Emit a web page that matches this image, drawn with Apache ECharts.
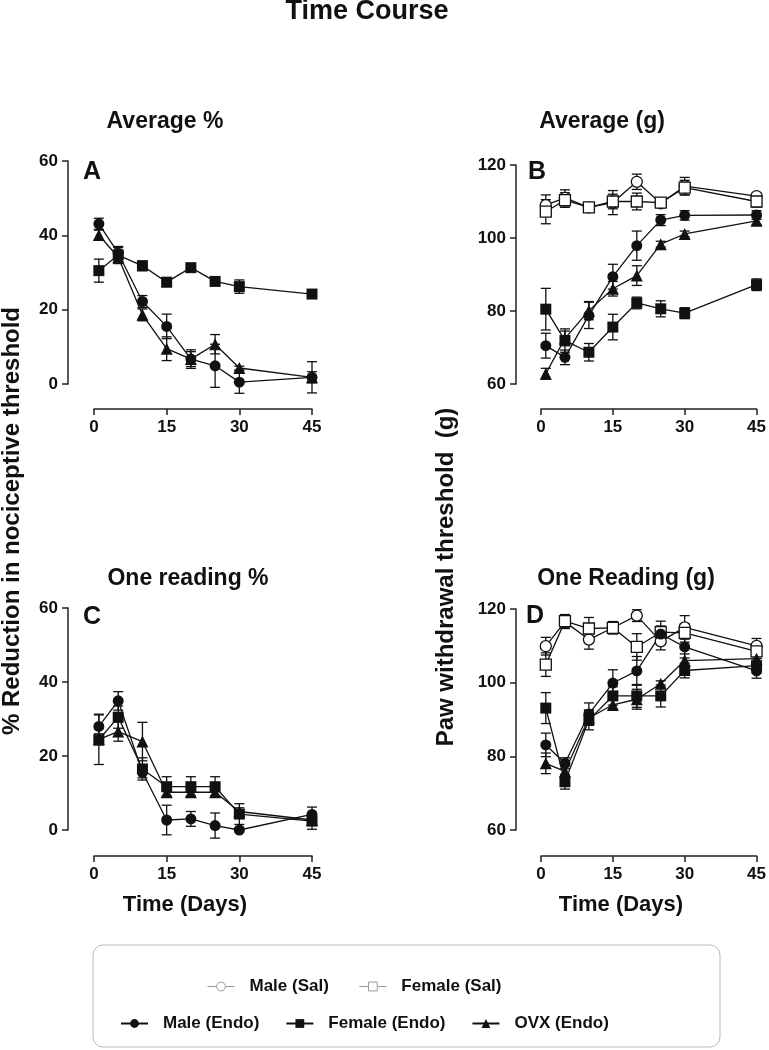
<!DOCTYPE html>
<html>
<head>
<meta charset="utf-8">
<script src="https://cdn.jsdelivr.net/npm/echarts@6/dist/echarts.min.js"></script>
<style>
html,body{margin:0;padding:0;background:#fff;}
#chart{width:769px;height:1050px;}
</style>
</head>
<body>
<div id="chart"></div>
<script>
// ---------- data ----------
const days = [1, 5, 10, 15, 20, 25, 30, 45];
const xTicks = [0, 15, 30, 45];
const pctTicks = [0, 20, 40, 60];
const gTicks = [60, 80, 100, 120];

const seriesNames = ['Male (Sal)', 'Female (Sal)', 'Male (Endo)', 'Female (Endo)', 'OVX (Endo)'];

// Panel A: Average %
const aMaleEndo = [43.1, 35.2, 22.2, 15.5, 6.7, 4.9, 0.5, 1.8];
const aMaleEndoErr = [1.5, 1.5, 1.6, 3.3, 2.5, 5.8, 3.0, 4.2];
const aFemaleEndo = [30.5, 34.7, 31.8, 27.4, 31.3, 27.6, 26.2, 24.2];
const aFemaleEndoErr = [3.1, 2.3, 1.3, 1.2, 0.5, 1.0, 1.8, 0.5];
const aOvx = [40.1, 34.1, 18.6, 9.5, 6.7, 10.7, 4.3, 1.8];
const aOvxErr = [1.3, 1.5, 1.6, 3.2, 2.0, 2.6, 0.5, 1.5];

// Panel B: Average (g)
const bMaleSal = [109.0, 111.0, 108.4, 109.7, 115.4, 109.5, 114.2, 111.5];
const bMaleSalErr = [2.8, 2.2, 0.8, 3.3, 2.1, 1.0, 2.4, 0.8];
const bFemaleSal = [107.2, 110.4, 108.4, 110.0, 110.0, 109.7, 113.8, 110.0];
const bFemaleSalErr = [3.3, 2.0, 0.8, 2.0, 2.3, 1.0, 2.0, 1.5];
const bMaleEndo = [70.5, 67.3, 78.8, 89.4, 97.9, 104.9, 106.2, 106.3];
const bMaleEndoErr = [3.4, 2.0, 3.6, 3.4, 4.0, 1.5, 1.3, 1.2];
const bFemaleEndo = [80.5, 71.9, 68.7, 75.6, 82.2, 80.6, 79.4, 87.2];
const bFemaleEndoErr = [5.7, 3.2, 2.4, 3.5, 1.6, 2.2, 1.5, 1.6];
const bOvx = [62.8, 72.5, 80.1, 86.1, 89.7, 98.3, 101.1, 104.7];
const bOvxErr = [1.5, 2.0, 2.5, 2.0, 2.7, 0.8, 0.8, 1.0];

// Panel C: One reading %
const cMaleEndo = [28.0, 34.9, 15.6, 2.7, 3.0, 1.2, 0.0, 4.2];
const cMaleEndoErr = [3.3, 2.5, 1.5, 4.0, 2.0, 3.4, 0.5, 2.0];
const cFemaleEndo = [24.4, 30.5, 16.5, 11.7, 11.7, 11.7, 4.3, 2.4];
const cFemaleEndoErr = [6.7, 3.0, 3.0, 2.7, 2.7, 2.7, 2.8, 2.2];
const cOvx = [24.5, 26.6, 23.9, 10.2, 10.2, 10.2, 5.0, 2.7];
const cOvxErr = [1.5, 2.6, 5.2, 1.0, 1.0, 1.0, 1.0, 1.0];

// Panel D: One Reading (g)
const dMaleSal = [109.9, 116.5, 111.7, 114.9, 118.2, 111.2, 115.0, 110.0];
const dMaleSalErr = [2.4, 1.8, 2.6, 1.7, 1.6, 2.3, 3.2, 2.0];
const dFemaleSal = [104.9, 116.7, 114.7, 114.9, 109.7, 113.7, 113.5, 108.5];
const dFemaleSalErr = [3.2, 1.8, 3.0, 1.5, 3.6, 3.0, 2.5, 2.0];
const dMaleEndo = [83.1, 78.1, 91.5, 99.9, 103.2, 113.2, 109.7, 103.2];
const dMaleEndoErr = [3.2, 1.5, 3.0, 3.6, 3.9, 2.2, 3.0, 2.0];
const dFemaleEndo = [93.1, 73.1, 89.9, 96.4, 96.4, 96.4, 103.3, 104.6];
const dFemaleEndoErr = [4.2, 2.0, 2.7, 2.5, 3.1, 3.0, 2.0, 2.0];
const dOvx = [78.1, 75.9, 90.4, 94.0, 95.5, 99.7, 106.0, 106.5];
const dOvxErr = [2.8, 1.5, 2.0, 1.5, 2.7, 0.8, 1.8, 1.5];

// ---------- styling / building ----------
const FONT = 'Liberation Sans, Arial, Helvetica, sans-serif';
const INK = '#111';

const symbolFor = {
  'Male (Sal)': {symbol: 'circle', open: true, size: 11},
  'Female (Sal)': {symbol: 'rect', open: true, size: 11},
  'Male (Endo)': {symbol: 'circle', open: false, size: 11},
  'Female (Endo)': {symbol: 'rect', open: false, size: 11},
  'OVX (Endo)': {symbol: 'triangle', open: false, size: 12}
};

const panels = [
  {grid: {left: 94, top: 161, width: 218, height: 223}, yOff: 26, xOff: 25, yTicks: pctTicks,
   sets: [['Male (Endo)', aMaleEndo, aMaleEndoErr], ['Female (Endo)', aFemaleEndo, aFemaleEndoErr], ['OVX (Endo)', aOvx, aOvxErr]]},
  {grid: {left: 541, top: 165, width: 218, height: 219}, yOff: 25, xOff: 25, yTicks: gTicks,
   sets: [['Male (Sal)', bMaleSal, bMaleSalErr], ['Female (Sal)', bFemaleSal, bFemaleSalErr], ['Male (Endo)', bMaleEndo, bMaleEndoErr], ['Female (Endo)', bFemaleEndo, bFemaleEndoErr], ['OVX (Endo)', bOvx, bOvxErr]]},
  {grid: {left: 94, top: 608, width: 218, height: 222}, yOff: 26, xOff: 26, yTicks: pctTicks,
   sets: [['Male (Endo)', cMaleEndo, cMaleEndoErr], ['Female (Endo)', cFemaleEndo, cFemaleEndoErr], ['OVX (Endo)', cOvx, cOvxErr]]},
  {grid: {left: 541, top: 609, width: 218, height: 221}, yOff: 25, xOff: 26, yTicks: gTicks,
   sets: [['Male (Sal)', dMaleSal, dMaleSalErr], ['Female (Sal)', dFemaleSal, dFemaleSalErr], ['Male (Endo)', dMaleEndo, dMaleEndoErr], ['Female (Endo)', dFemaleEndo, dFemaleEndoErr], ['OVX (Endo)', dOvx, dOvxErr]]}
];

const axisLine = {show: true, onZero: false, lineStyle: {color: '#222', width: 1.5}};
const axisTick = {show: true, length: 6, lineStyle: {color: '#222', width: 1.5}};
const axisLabel = {color: INK, fontSize: 17, fontWeight: 'bold', fontFamily: FONT};

const grids = [], xAxes = [], yAxes = [], series = [];
panels.forEach((p, gi) => {
  grids.push(Object.assign({containLabel: false}, p.grid));
  xAxes.push({
    type: 'value', gridIndex: gi, min: xTicks[0], max: xTicks[xTicks.length - 1],
    interval: xTicks[1] - xTicks[0], offset: p.xOff,
    axisLine, axisTick, splitLine: {show: false},
    axisLabel: Object.assign({margin: 10}, axisLabel)
  });
  yAxes.push({
    type: 'value', gridIndex: gi, min: p.yTicks[0], max: p.yTicks[p.yTicks.length - 1],
    interval: p.yTicks[1] - p.yTicks[0], offset: p.yOff,
    axisLine, axisTick, splitLine: {show: false},
    axisLabel: Object.assign({margin: 10}, axisLabel)
  });
  const lines = [], errs = [];
  p.sets.forEach(([name, vals, err]) => {
    const s = symbolFor[name];
    lines.push({
      type: 'line', name, xAxisIndex: gi, yAxisIndex: gi, z: 3, clip: false,
      data: days.map((d, i) => [d, vals[i]]),
      symbol: s.symbol, symbolSize: s.size, showSymbol: true, animation: false,
      lineStyle: {color: INK, width: 1.3},
      itemStyle: s.open ? {color: '#fff', borderColor: INK, borderWidth: 1.3} : {color: INK, borderColor: INK, borderWidth: 0},
      emphasis: {disabled: true}
    });
    errs.push({
      type: 'custom', name, xAxisIndex: gi, yAxisIndex: gi, z: 2, clip: false, animation: false, silent: true,
      data: days.map((d, i) => [d, vals[i] - err[i], vals[i] + err[i]]),
      encode: {x: 0, y: [1, 2]},
      renderItem: function (params, api) {
        const lo = api.coord([api.value(0), api.value(1)]);
        const hi = api.coord([api.value(0), api.value(2)]);
        const w = 5;
        const st = {stroke: INK, lineWidth: 1.3};
        return {type: 'group', children: [
          {type: 'line', shape: {x1: lo[0], y1: lo[1], x2: hi[0], y2: hi[1]}, style: st},
          {type: 'line', shape: {x1: lo[0] - w, y1: lo[1], x2: lo[0] + w, y2: lo[1]}, style: st},
          {type: 'line', shape: {x1: hi[0] - w, y1: hi[1], x2: hi[0] + w, y2: hi[1]}, style: st}
        ]};
      }
    });
  });
  series.push(...lines, ...errs);
});

function txt(text, x, y, size, rot) {
  return {type: 'text', x, y, rotation: rot || 0, z: 10, silent: true,
    style: {text, fill: INK, fontSize: size, fontWeight: 'bold', fontFamily: FONT, align: 'center', verticalAlign: 'middle'}};
}

const legendText = {color: INK, fontSize: 17, fontWeight: 'bold', fontFamily: FONT, padding: [0, 0, 0, 10]};

const option = {
  backgroundColor: '#fff',
  animation: false,
  grid: grids,
  xAxis: xAxes,
  yAxis: yAxes,
  series,
  legend: [
    {left: 202, top: 973, itemWidth: 27, itemHeight: 11, itemGap: 30, selectedMode: false,
     textStyle: legendText,
     data: [
       {name: 'Male (Sal)', itemStyle: {color: '#fff', borderColor: '#999', borderWidth: 1}, lineStyle: {color: '#999', width: 1}},
       {name: 'Female (Sal)', itemStyle: {color: '#fff', borderColor: '#999', borderWidth: 1}, lineStyle: {color: '#999', width: 1}}
     ]},
    {left: 115, top: 1010, itemWidth: 27, itemHeight: 11, itemGap: 26, selectedMode: false,
     textStyle: legendText,
     data: ['Male (Endo)', 'Female (Endo)', 'OVX (Endo)']}
  ],
  graphic: [
    {type: 'rect', z: 0, silent: true, shape: {x: 93, y: 945, width: 627, height: 102, r: 10}, style: {fill: 'none', stroke: '#bbb', lineWidth: 1}},
    txt('Time Course', 367, 12, 27),
    txt('Average %', 165, 122, 23),
    txt('Average (g)', 602, 122, 23),
    txt('One reading %', 188, 579, 23),
    txt('One Reading (g)', 626, 579, 23),
    txt('A', 92, 172, 25),
    txt('B', 537, 172, 25),
    txt('C', 92, 617, 25),
    txt('D', 535, 616, 25),
    txt('% Reduction in nociceptive threshold', 12, 521, 24, Math.PI / 2),
    txt('Paw withdrawal threshold  (g)', 446, 577, 24, Math.PI / 2),
    txt('Time (Days)', 185, 905, 22),
    txt('Time (Days)', 621, 905, 22)
  ]
};

const chart = echarts.init(document.getElementById('chart'), null, {renderer: 'canvas'});
chart.setOption(option);
</script>
</body>
</html>
